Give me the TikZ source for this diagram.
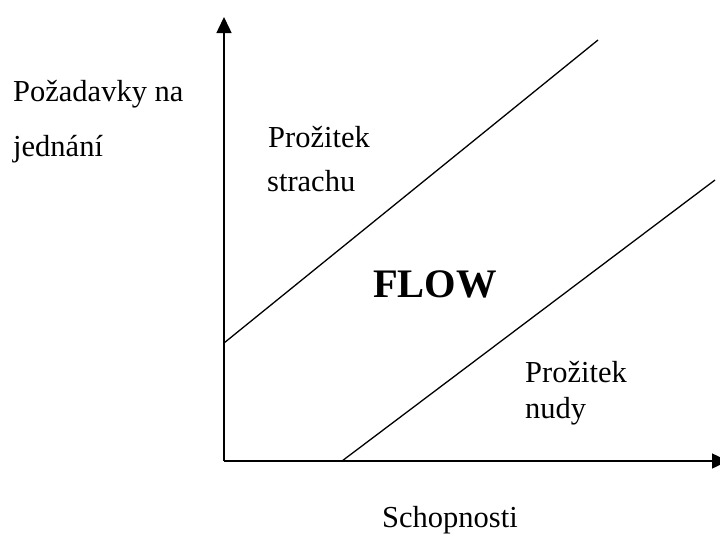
\documentclass[tikz,border=0pt]{standalone}
\usepackage{fontspec}
\setmainfont{Liberation Serif}
\usetikzlibrary{arrows.meta}
\begin{document}
\begin{tikzpicture}[x=1pt,y=-1pt,
  axis/.style={line width=1.5pt,-{Triangle[length=16pt,width=15pt]}},
  diag/.style={line width=1.3pt},
  lbl/.style={anchor=base west,inner sep=0pt,font=\fontsize{30.5}{36}\selectfont},
  big/.style={anchor=base west,inner sep=0pt,font=\fontsize{40.5}{48}\selectfont\bfseries}]
\useasboundingbox (0,0) rectangle (720,536);
\coordinate (O) at (224,461);
\coordinate (Ytip) at (224,17);
\coordinate (Xtip) at (728,461);
\coordinate (U1) at (224,343);
\coordinate (U2) at (598,40);
\coordinate (L1) at (342,461);
\coordinate (L2) at (715,180);
\draw[axis] (O) -- (Ytip);
\draw[axis] (O) -- (Xtip);
\draw[diag] (U1) -- (U2);
\draw[diag] (L1) -- (L2);
\node[lbl] (ya1) at (13,101) {Požadavky na};
\node[lbl] (ya2) at (13,156) {jednání};
\node[lbl] (s1) at (268,147) {Prožitek};
\node[lbl] (s2) at (267,191) {strachu};
\node[big] (flow) at (373,297) {FLOW};
\node[lbl] (n1) at (525,382) {Prožitek};
\node[lbl] (n2) at (525,418) {nudy};
\node[lbl] (xa) at (382,527) {Schopnosti};
\end{tikzpicture}
\end{document}
